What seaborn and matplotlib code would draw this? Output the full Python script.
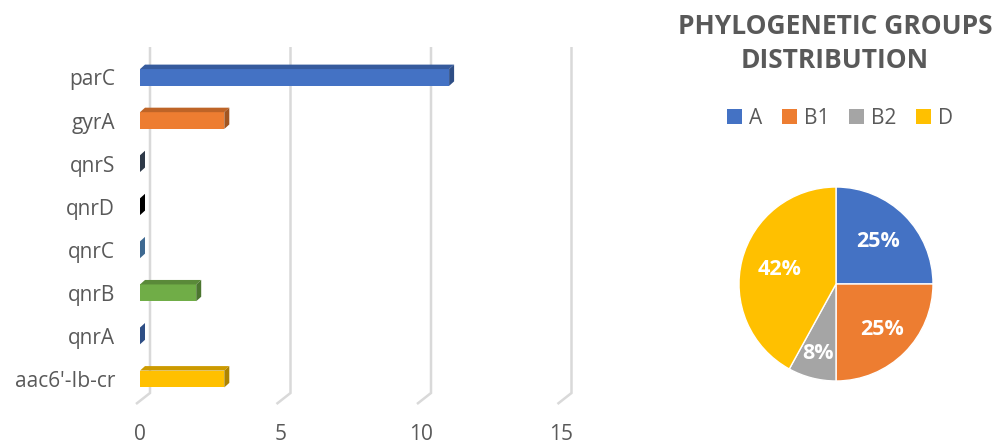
import numpy as np
import pandas as pd
import matplotlib
matplotlib.use("Agg")
import matplotlib.pyplot as plt
import seaborn as sns
from matplotlib.patches import Polygon, Patch
from matplotlib.colors import to_rgb

# Resistance genes (horizontal 3D-style bars)
genes = ["parC", "gyrA", "qnrS", "qnrD", "qnrC", "qnrB", "qnrA", "aac6'-Ib-cr"]
gene_counts = [11, 3, 0, 0, 0, 2, 0, 3]
gene_colors = ["#4472C4", "#ED7D31", "#44546A", "#000000",
               "#5B9BD5", "#70AD47", "#4472C4", "#FFC000"]
x_ticks = [0, 5, 10, 15]

# Phylogenetic groups (pie)
groups = ["A", "B1", "B2", "D"]
group_pct = [25, 25, 8, 42]
group_colors = ["#4472C4", "#ED7D31", "#A5A5A5", "#FFC000"]

W, H, DPI = 998, 445, 100
TEXT = "#595959"
GRID = "#D9D9D9"

sns.set_theme(style="white")
plt.rcParams["font.family"] = ["Open Sans", "DejaVu Sans"]

fig = plt.figure(figsize=(W / DPI, H / DPI), dpi=DPI)


def px_box(left, top, right, bottom):
    return [left / W, 1 - bottom / H, (right - left) / W, (bottom - top) / H]


def shade(c, f):
    r, g, b = to_rgb(c)
    return (r * f, g * f, b * f)


# ---- bar chart ----
ax_l, ax_t, ax_r, ax_b = 140, 45, 600, 405
ax = fig.add_axes(px_box(ax_l, ax_t, ax_r, ax_b))
df = pd.DataFrame({"gene": genes, "count": gene_counts})
sns.barplot(data=df, x="count", y="gene", hue="gene", order=genes,
            hue_order=genes, palette=gene_colors, saturation=1, width=0.39,
            linewidth=0, legend=False, ax=ax, zorder=3)

px_x = 28.1          # pixels per unit on the value axis
px_y = 43.07         # pixels per category row
row0 = 77.5          # pixel row of the first category centre
ax.set_xlim(0, (ax_r - ax_l) / px_x)
ax.set_ylim((ax_b - row0) / px_y, (ax_t - row0) / px_y)


def ydat(p):
    return (p - row0) / px_y


# depth faces of each bar
ddx, ddy = 5 / px_x, 4.5 / px_y
for p in list(ax.patches):
    x0, w = p.get_x(), p.get_width()
    y0, h = p.get_y(), p.get_height()
    c = p.get_facecolor()
    top = Polygon([(x0, y0), (x0 + w, y0), (x0 + w + ddx, y0 - ddy),
                   (x0 + ddx, y0 - ddy)], closed=True,
                  fc=shade(c, 0.8), ec="none", zorder=3)
    side = Polygon([(x0 + w, y0), (x0 + w, y0 + h),
                    (x0 + w + ddx, y0 + h - ddy), (x0 + w + ddx, y0 - ddy)],
                   closed=True, fc=shade(c, 0.68), ec="none", zorder=3,
                   clip_on=False)
    ax.add_patch(top)
    ax.add_patch(side)

# back-wall gridlines with floor edge
for v in x_ticks:
    gx = v + 10 / px_x
    ax.plot([gx, gx, gx - 14 / px_x], [ydat(47), ydat(393), ydat(404)],
            color=GRID, lw=1.8, zorder=1, clip_on=False,
            solid_joinstyle="miter", solid_capstyle="butt")

ax.set_xticks(x_ticks)
ax.set_xticklabels([str(v) for v in x_ticks])
ax.tick_params(axis="x", length=0, pad=14, labelsize=15, labelcolor=TEXT)
ax.tick_params(axis="y", length=0, pad=18, labelsize=15, labelcolor=TEXT)
ax.set_xlabel("")
ax.set_ylabel("")
for s in ax.spines.values():
    s.set_visible(False)
ax.grid(False)

# ---- pie chart ----
cx, cy, r = 836, 284, 97
half = 1.25 * r
pax = fig.add_axes(px_box(cx - half, cy - half, cx + half, cy + half))
wedges, _, pct_texts = pax.pie(
    group_pct, colors=group_colors, startangle=90, counterclock=False,
    autopct="%.0f%%", pctdistance=0.66,
    wedgeprops=dict(edgecolor="white", linewidth=1),
    textprops=dict(color="white", fontsize=15.5, fontweight="bold"))

# per-slice label distance from the centre
label_dist = [0.62, 0.67, 0.74, 0.60]
for wdg, txt, d in zip(wedges, pct_texts, label_dist):
    mid = np.deg2rad((wdg.theta1 + wdg.theta2) / 2)
    txt.set_position((d * np.cos(mid), d * np.sin(mid)))

pax.set_xlim(-1.25, 1.25)
pax.set_ylim(-1.25, 1.25)
pax.set_aspect("equal")
pax.axis("off")

fig.text(835 / W, 1 - 26 / H, "PHYLOGENETIC GROUPS", ha="center",
         va="center", fontsize=19, fontweight="bold", color=TEXT)
fig.text(835 / W, 1 - 60 / H, "DISTRIBUTION", ha="center", va="center",
         fontsize=19, fontweight="bold", color=TEXT)

handles = [Patch(facecolor=c, edgecolor="none") for c in group_colors]
fig.legend(handles, groups, loc="center", bbox_to_anchor=(840 / W, 1 - 118 / H),
           ncol=4, frameon=False, handlelength=0.7, handleheight=0.7,
           handletextpad=0.35, columnspacing=0.95, fontsize=15,
           labelcolor=TEXT)

fig.savefig("out.png", dpi=DPI)
